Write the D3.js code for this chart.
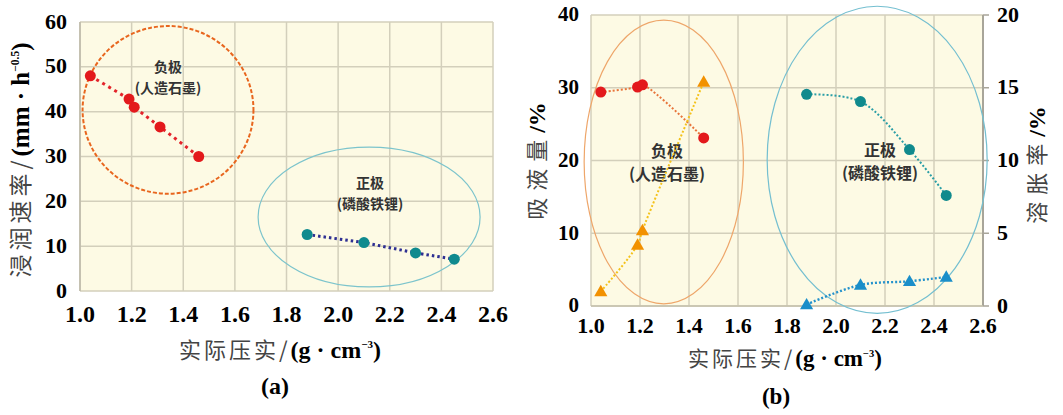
<!DOCTYPE html>
<html>
<head>
<meta charset="utf-8">
<script src="https://cdn.jsdelivr.net/npm/d3@7/dist/d3.min.js"></script>
<style>
  html, body { margin: 0; padding: 0; background: #fff; }
  svg { display: block; }
</style>
</head>
<body>
<svg id="chart" width="1063" height="415"></svg>
<script>
// ---- data ----
var xTicks = [1.0, 1.2, 1.4, 1.6, 1.8, 2.0, 2.2, 2.4, 2.6];
var rateTicks = [0, 10, 20, 30, 40, 50, 60];
var absorbTicks = [0, 10, 20, 30, 40];
var swellTicks = [0, 5, 10, 15, 20];

// (a) wetting rate
var negDensityA = [1.04, 1.19, 1.21, 1.31, 1.46];
var negRate = [48.0, 42.8, 41.0, 36.6, 30.0];
var posDensityA = [1.88, 2.10, 2.30, 2.45];
var posRate = [12.6, 10.8, 8.5, 7.1];

// (b) absorption (left axis) and swelling (right axis)
var negDensityB = [1.04, 1.19, 1.21, 1.46];
var negAbsorb = [29.4, 30.1, 30.4, 23.1];
var negSwell = [1.0, 4.2, 5.2, 15.4];
var posDensityB = [1.88, 2.10, 2.30, 2.45];
var posAbsorb = [29.1, 28.1, 21.5, 15.2];
var posSwell = [0.1, 1.45, 1.7, 2.0];

// group outlines, in data units: [cx, cy, rx, ry]
var negZoneA = [1.341, 40.4, 0.331, 18.7];
var posZoneA = [2.12, 16.5, 0.43, 15.6];
var negZoneB = [1.297, 19.8, 0.325, 19.5];
var posZoneB = [2.168, 20.1, 0.449, 21.1];

var serif = '"Liberation Serif", "Times New Roman", serif';
var cjk = '"Noto Sans CJK SC", "Noto Sans", sans-serif';

var svg = d3.select('#chart');

function zip(xs, ys) {
    return xs.map(function(x, i) { return [x, ys[i]]; });
}

function plotBackground(g, x, y, yTicks) {
    var r = x.range(), t = y.range();
    g.append('rect')
        .attr('x', r[0]).attr('y', t[1])
        .attr('width', r[1] - r[0]).attr('height', t[0] - t[1])
        .attr('fill', '#fdfae4');

    g.selectAll('line.vgrid').data(xTicks).enter()
        .append('line')
            .attr('x1', x).attr('x2', x)
            .attr('y1', t[0]).attr('y2', t[1])
            .attr('stroke', '#d3cfbb').attr('stroke-width', 1.5);

    g.selectAll('line.hgrid').data(yTicks).enter()
        .append('line')
            .attr('x1', r[0]).attr('x2', r[1])
            .attr('y1', y).attr('y2', y)
            .attr('stroke', '#d3cfbb').attr('stroke-width', 1.5);
}

function xTickLabels(g, x, baseline, size) {
    g.selectAll('text.xt').data(xTicks).enter()
        .append('text')
            .attr('x', x).attr('y', baseline)
            .attr('text-anchor', 'middle')
            .attr('font-family', serif).attr('font-weight', 'bold')
            .attr('font-size', size)
            .text(function(d) { return d.toFixed(1); });
}

function yTickLabels(g, y, ticks, xPos, anchor, size) {
    g.selectAll(null).data(ticks).enter()
        .append('text')
            .attr('x', xPos).attr('y', y)
            .attr('dy', '0.3em')
            .attr('text-anchor', anchor)
            .attr('font-family', serif).attr('font-weight', 'bold')
            .attr('font-size', size)
            .text(function(d) { return d; });
}

function zone(g, x, y, z, color, width, dash) {
    g.append('ellipse')
        .attr('cx', x(z[0])).attr('cy', y(z[1]))
        .attr('rx', x(z[0] + z[2]) - x(z[0]))
        .attr('ry', y(z[1] - z[3]) - y(z[1]))
        .attr('fill', 'none')
        .attr('stroke', color).attr('stroke-width', width)
        .attr('stroke-dasharray', dash);
}

// two-line label: electrode name over its material
function groupLabel(g, cx, cy, name, material, size, gap) {
    [name, material].forEach(function(s, i) {
        g.append('text')
            .attr('x', cx).attr('y', cy + i * gap)
            .attr('text-anchor', 'middle')
            .attr('font-family', cjk).attr('font-weight', 'bold')
            .attr('font-size', size).attr('fill', '#333')
            .text(s);
    });
}

function dotted(g, x, y, pts, color, width, dash, curve) {
    var line = d3.line()
        .x(function(d) { return x(d[0]); })
        .y(function(d) { return y(d[1]); })
        .curve(curve || d3.curveLinear);
    g.append('path')
        .attr('d', line(pts))
        .attr('fill', 'none')
        .attr('stroke', color).attr('stroke-width', width)
        .attr('stroke-dasharray', dash);
}

function circles(g, x, y, pts, color, r) {
    g.selectAll(null).data(pts).enter()
        .append('circle')
            .attr('cx', function(d) { return x(d[0]); })
            .attr('cy', function(d) { return y(d[1]); })
            .attr('r', r)
            .attr('fill', color);
}

function triangles(g, x, y, pts, color) {
    var sym = d3.symbol(d3.symbolTriangle, 75);
    g.selectAll(null).data(pts).enter()
        .append('path')
            .attr('d', sym)
            .attr('transform', function(d) {
                return 'translate(' + x(d[0]) + ',' + (y(d[1]) + 1) + ')';
            })
            .attr('fill', color);
}

// axis title with a superscript unit exponent
function unitTitle(g, cjkText, latin, sup, size, opts) {
    var t = g.append('text')
        .attr('text-anchor', 'middle')
        .attr('transform', opts.transform);
    t.append('tspan')
        .attr('font-family', cjk).attr('font-size', size)
        .attr('letter-spacing', opts.spacing || 0)
        .attr('fill', '#444')
        .text(cjkText);
    t.append('tspan')
        .attr('font-family', serif).attr('font-weight', 'bold').attr('font-size', size + 2)
        .text(latin);
    if (sup) {
        t.append('tspan')
            .attr('font-family', serif).attr('font-weight', 'bold').attr('font-size', size * 0.5)
            .attr('dy', -size * 0.45)
            .text(sup);
        t.append('tspan')
            .attr('font-family', serif).attr('font-weight', 'bold').attr('font-size', size + 2)
            .attr('dy', size * 0.45)
            .text(')');
    }
    return t;
}

// ---------- panel (a) ----------
(function() {
    var g = svg.append('g');
    var x = d3.scaleLinear().domain([1.0, 2.6]).range([80, 493]);
    var y = d3.scaleLinear().domain([0, 60]).range([291, 22]);

    plotBackground(g, x, y, rateTicks);
    g.append('line')
        .attr('x1', 80).attr('x2', 80).attr('y1', 22).attr('y2', 291)
        .attr('stroke', '#bdb9a8').attr('stroke-width', 1.5);

    zone(g, x, y, negZoneA, '#e8661e', 2, '4,2');
    zone(g, x, y, posZoneA, '#7cc4cc', 1.2, null);

    groupLabel(g, 168, 72, '负极', '(人造石墨)', 14, 21);
    groupLabel(g, 370, 188, '正极', '(磷酸铁锂)', 14, 21);

    var neg = zip(negDensityA, negRate);
    var pos = zip(posDensityA, posRate);
    dotted(g, x, y, neg, '#e3232a', 3, '3,4');
    dotted(g, x, y, pos, '#2e2f92', 3, '2.5,3');
    circles(g, x, y, neg, '#e3191c', 5.5);
    circles(g, x, y, pos, '#0f8a8e', 5.5);

    xTickLabels(g, x, 322, 24);
    yTickLabels(g, y, rateTicks, 67, 'end', 22);

    unitTitle(g, '浸润速率/', '(mm · h', '−0.5', 23,
        {transform: 'translate(29,160) rotate(-90)', spacing: 4});
    unitTitle(g, '实际压实/', '(g · cm', '−3', 22,
        {transform: 'translate(280,358)', spacing: 3});

    g.append('text')
        .attr('x', 275).attr('y', 394)
        .attr('text-anchor', 'middle')
        .attr('font-family', serif).attr('font-weight', 'bold').attr('font-size', 24)
        .text('(a)');
})();

// ---------- panel (b) ----------
(function() {
    var g = svg.append('g');
    var x = d3.scaleLinear().domain([1.0, 2.6]).range([591, 983]);
    var yL = d3.scaleLinear().domain([0, 40]).range([306, 15]);
    var yR = d3.scaleLinear().domain([0, 20]).range([306, 15]);

    plotBackground(g, x, yL, absorbTicks);
    // right axis with small outer ticks
    g.append('line')
        .attr('x1', 983).attr('x2', 983).attr('y1', 15).attr('y2', 306)
        .attr('stroke', '#a8a599').attr('stroke-width', 2);
    g.selectAll(null).data(swellTicks).enter()
        .append('line')
            .attr('x1', 983).attr('x2', 989)
            .attr('y1', yR).attr('y2', yR)
            .attr('stroke', '#a8a599').attr('stroke-width', 1.5);
    g.append('line')
        .attr('x1', 591).attr('x2', 983).attr('y1', 306).attr('y2', 306)
        .attr('stroke', '#c4c0ad').attr('stroke-width', 1.5);

    zone(g, x, yL, negZoneB, '#eea66a', 1.2, null);
    zone(g, x, yL, posZoneB, '#74bfd0', 1.2, null);

    groupLabel(g, 667, 157, '负极', '(人造石墨)', 16, 23);
    groupLabel(g, 880, 156, '正极', '(磷酸铁锂)', 16, 23);

    var smooth = d3.curveCatmullRom.alpha(0.5);
    var negA = zip(negDensityB, negAbsorb);
    var negS = zip(negDensityB, negSwell);
    var posA = zip(posDensityB, posAbsorb);
    var posS = zip(posDensityB, posSwell);

    dotted(g, x, yL, negA, '#e8743a', 2, '2,2', smooth);
    dotted(g, x, yR, negS, '#f4c21a', 2, '2,2', smooth);
    dotted(g, x, yL, posA, '#2a9ea6', 2, '2,2', smooth);
    dotted(g, x, yR, posS, '#2492cc', 2.4, '2,2', smooth);

    circles(g, x, yL, negA, '#e3191c', 5.5);
    triangles(g, x, yR, negS, '#f29100');
    circles(g, x, yL, posA, '#108a8d', 5.5);
    triangles(g, x, yR, posS, '#1a8ec9');

    xTickLabels(g, x, 333, 22);
    yTickLabels(g, yL, absorbTicks, 579, 'end', 21);
    yTickLabels(g, yR, swellTicks, 997, 'start', 22);

    unitTitle(g, '吸液量', '/%', null, 22,
        {transform: 'translate(545,161) rotate(-90)', spacing: 7});
    unitTitle(g, '溶胀率', '/%', null, 22,
        {transform: 'translate(1045,165) rotate(-90)', spacing: 7});
    unitTitle(g, '实际压实/', '(g · cm', '−3', 21,
        {transform: 'translate(785,366)', spacing: 3});

    g.append('text')
        .attr('x', 776).attr('y', 404)
        .attr('text-anchor', 'middle')
        .attr('font-family', serif).attr('font-weight', 'bold').attr('font-size', 23)
        .text('(b)');
})();
</script>
</body>
</html>
